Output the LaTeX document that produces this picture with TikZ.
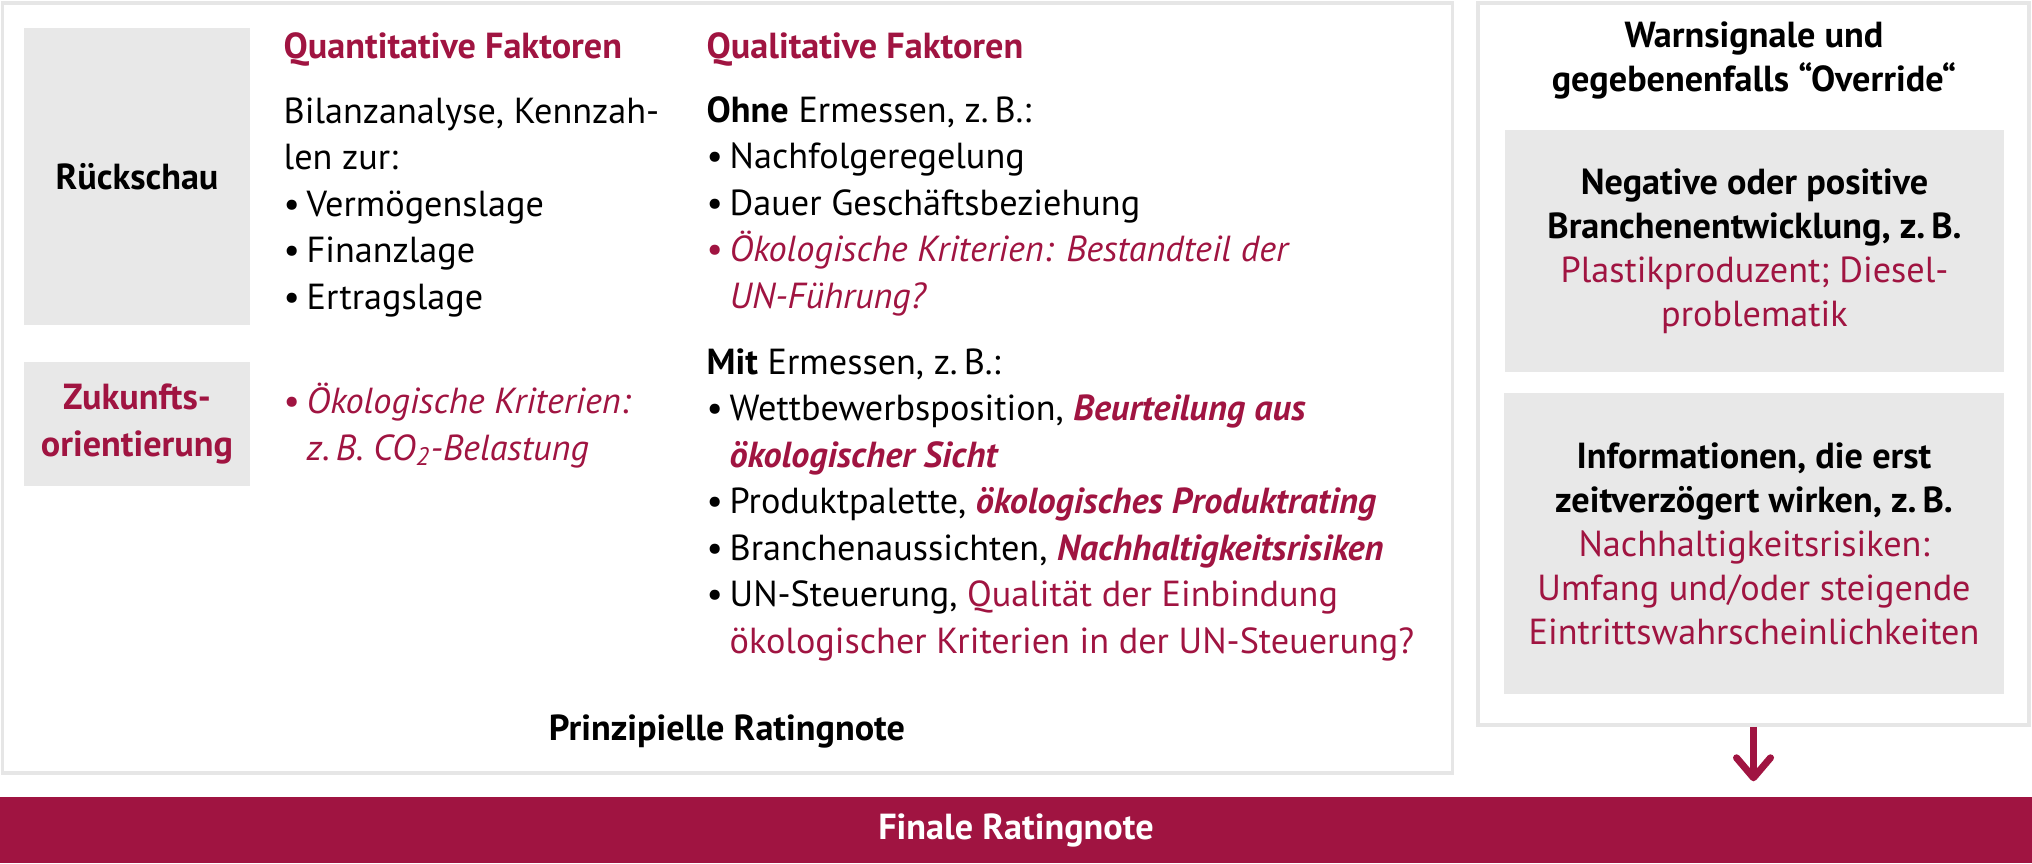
\documentclass[tikz,border=0pt]{standalone}
\usepackage{fontspec}
\setmainfont{PT Sans}
\usetikzlibrary{arrows.meta}

\definecolor{Accent}{HTML}{A01441}
\definecolor{BoxFill}{HTML}{E8E8E8}
\definecolor{Frame}{HTML}{E6E6E6}

\tikzstyle{frame-box}=[draw=Frame, line width=0.035cm, inner sep=0pt]
\tikzstyle{grey-box}=[fill=BoxFill, inner sep=0pt, align=center, font=\fontsize{10.3}{12.5}\selectfont]
\tikzstyle{text-block}=[anchor=base west, inner sep=0pt, align=left, font=\fontsize{10.3}{13.2}\selectfont]
\tikzstyle{heading}=[text-block, font=\fontsize{10.3}{13.2}\selectfont\bfseries, text=Accent]
\tikzstyle{title}=[anchor=base, inner sep=0pt, align=center, font=\fontsize{10.3}{12.5}\selectfont\bfseries]
\tikzstyle{arrow-down}=[draw=Accent, line width=0.07cm, -{Straight Barb[length=0.2cm, width=0.34cm, line cap=round, line join=round]}, shorten >=0.15cm]

\newcommand{\bul}{\makebox[0.23cm][l]{\textbullet}}
\newcommand{\ind}{\hspace*{0.23cm}}

\begin{document}
\begin{tikzpicture}[x=0.01cm, y=-0.01cm]
  \useasboundingbox (0,0) rectangle (2032,863);

  % frames
  \node (basis) at (727.5,388) [frame-box, minimum width=14.49cm, minimum height=7.70cm] {};
  \node (warn) at (1753.5,364) [frame-box, minimum width=5.51cm, minimum height=7.22cm] {};
  \node (final) at (1016,830) [fill=Accent, inner sep=0pt, minimum width=20.32cm, minimum height=0.66cm, text=white, font=\fontsize{10.3}{13.2}\selectfont\bfseries] {Finale Ratingnote};

  % left column (base = last line)
  \node (rueckschau) at (137,176.5) [grey-box, minimum width=2.26cm, minimum height=2.97cm, font=\fontsize{10.3}{12.5}\selectfont\bfseries] {Rückschau};
  \node (zukunft) at (137,424) [grey-box, minimum width=2.26cm, minimum height=1.24cm, text=Accent, font=\fontsize{10.3}{13.2}\selectfont\bfseries] {Zukunfts-\\orientierung};

  \node (quant-head) at (283,58) [heading] {Quantitative Faktoren};
  \node (kennzahlen) at (283,309) [text-block] {Bilanzanalyse, Kennzah-\\len zur:\\\bul Vermögenslage\\\bul Finanzlage\\\bul Ertragslage};
  \node (oeko-quant) at (283,460) [text-block, text=Accent] {\bul{\itshape Ökologische Kriterien:}\\\ind{\itshape z.\,B. CO\textsubscript{2}-Belastung}};

  % middle column
  \node (qual-head) at (706,58) [heading] {Qualitative Faktoren};
  \node (ohne) at (706,308) [text-block] {{\bfseries Ohne} Ermessen, z.\,B.:\\\bul Nachfolgeregelung\\\bul Dauer Geschäftsbeziehung\\{\color{Accent}\bul\itshape Ökologische Kriterien: Bestandteil der}\\{\color{Accent}\ind\itshape UN-Führung?}};
  \node (mit) at (706,653) [text-block] {{\bfseries Mit} Ermessen, z.\,B.:\\\bul Wettbewerbsposition, {\color{Accent}\bfseries\itshape Beurteilung aus}\\\ind{\color{Accent}\bfseries\itshape ökologischer Sicht}\\\bul Produktpalette, {\color{Accent}\bfseries\itshape ökologisches Produktrating}\\\bul Branchenaussichten, {\color{Accent}\bfseries\itshape Nachhaltigkeitsrisiken}\\\bul UN-Steuerung, {\color{Accent}Qualität der Einbindung}\\\ind{\color{Accent}ökologischer Kriterien in der UN-Steuerung?}};

  \node (prinzipiell) at (727,740) [title] {Prinzipielle Ratingnote};

  % right column
  \node (warn-title) at (1754,91) [title] {Warnsignale und\\gegebenenfalls “Override“};
  \node (branche) at (1754.5,251) [grey-box, minimum width=4.99cm, minimum height=2.42cm] {{\bfseries Negative oder positive}\\{\bfseries Branchenentwicklung, z.\,B.}\\{\color{Accent}Plastikproduzent; Diesel-}\\{\color{Accent}problematik}};
  \node (info) at (1754,543.5) [grey-box, minimum width=5.0cm, minimum height=3.01cm] {{\bfseries Informationen, die erst}\\{\bfseries zeitverzögert wirken, z.\,B.}\\{\color{Accent}Nachhaltigkeitsrisiken:}\\{\color{Accent}Umfang und/oder steigende}\\{\color{Accent}Eintrittswahrscheinlichkeiten}};

  \draw [arrow-down] (warn.south) -- (warn.south |- final.north);
\end{tikzpicture}
\end{document}
